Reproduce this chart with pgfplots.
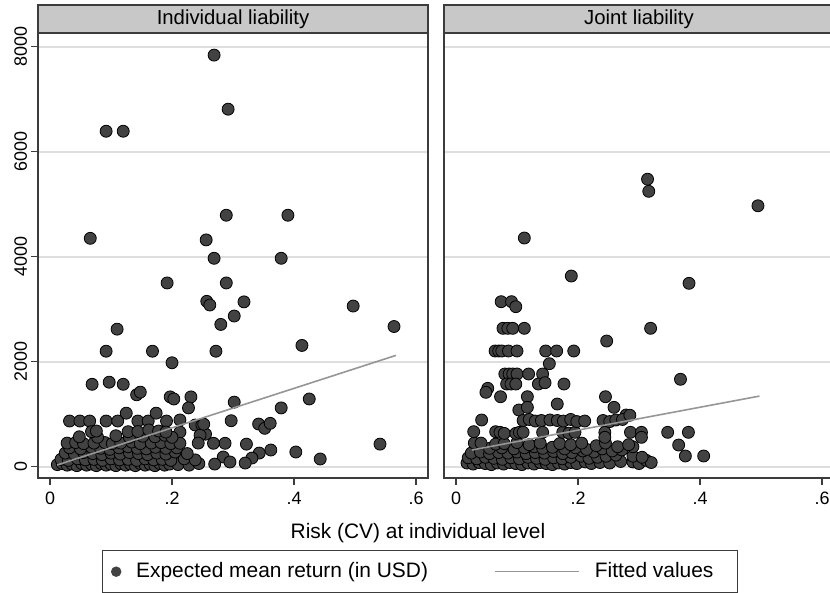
\documentclass[border=0pt]{standalone}
\usepackage{fontspec}
\setmainfont{Liberation Sans}
\usepackage{pgfplots}
\pgfplotsset{compat=1.18}

\definecolor{dotgray}{RGB}{66,66,66}
\definecolor{fitgray}{RGB}{150,150,150}
\definecolor{stripgray}{RGB}{200,200,200}
\definecolor{framegray}{RGB}{60,60,60}
\definecolor{gridgray}{RGB}{222,222,222}

\pgfplotsset{
  panel/.style={
    scale only axis, width=195bp, height=222.5bp,
    xmin=-0.0197, xmax=0.6197, ymin=-215, ymax=8261,
    xtick={0,0.2,0.4,0.6}, xticklabels={0,.2,.4,.6},
    ytick={0,2000,4000,6000,8000},
    ymajorgrids, grid style={gridgray, line width=1bp},
    axis line style={framegray, line width=0.8bp},
    tick style={framegray, line width=0.7bp},
    tick align=outside, major tick length=3.5bp,
    xtick pos=left,
    clip marker paths=true,
    tick label style={font=\fontsize{9}{10.5}\selectfont},
    /pgf/number format/assume math mode=true,
    /pgf/number format/1000 sep={},
    extra description/.code={
      \draw[framegray, line width=0.8bp, fill=stripgray] (0,1) rectangle ([yshift=14bp]1,1);
      \node[font=\fontsize{10.2}{12}\selectfont, inner sep=0pt] at ([yshift=7bp]0.5,1) {#1};
    },
  },
  dots/.style={only marks, mark=*, mark size=3bp, mark options={fill=dotgray, draw=none},
    legend image code/.code={\fill[dotgray] (0bp,0bp) circle (2.3bp); \path[draw=none, fill=none] (-2.3bp,0bp) rectangle (10bp,0.1bp);}},
  fit/.style={no marks, fitgray, line width=0.8bp,
    legend image code/.code={\draw[fitgray, line width=0.8bp] (0bp,0bp) -- (42bp,0bp); \path[draw=none] (42bp,0bp) rectangle (50bp,0.1bp);}},
}

\pgfplotstableread{
x y
.269 7840
.292 6810
.092 6390
.120 6390
.066 4350
.289 4790
.390 4790
.256 4320
.269 3970
.379 3970
.192 3500
.289 3500
.257 3150
.262 3080
.318 3140
.497 3060
.302 2870
.280 2710
.564 2670
.110 2620
.413 2310
.092 2200
.168 2200
.272 2200
.200 1980
.069 1570
.097 1610
.120 1570
.142 1370
.148 1420
.197 1330
.203 1290
.231 1330
.227 1120
.302 1230
.379 1120
.425 1290
.032 870
.049 870
.065 870
.092 870
.111 870
.125 1020
.144 870
.161 870
.174 1020
.191 870
.213 890
.238 794
.249 794
.297 876
.342 813
.352 731
.361 826
.213 660
.255 620
.246 600
.252 810
.287 446
.322 430
.362 318
.343 260
.331 165
.320 70
.403 280
.443 147
.541 430
.284 185
.295 90
.270 50
.012 40
.020 60
.028 30
.036 50
.044 20
.052 60
.060 30
.068 50
.076 20
.084 60
.092 30
.100 50
.108 20
.116 60
.124 30
.132 50
.140 20
.148 60
.156 30
.164 50
.172 20
.180 60
.188 30
.196 50
.210 40
.228 30
.244 60
.018 140
.030 120
.045 150
.058 130
.072 140
.086 120
.100 150
.114 130
.128 140
.142 120
.156 150
.170 130
.184 140
.198 120
.220 150
.238 130
.025 260
.040 240
.055 270
.070 250
.085 230
.100 260
.115 240
.130 270
.145 250
.160 230
.175 260
.190 240
.205 280
.225 250
.032 360
.050 340
.068 370
.083 350
.098 330
.113 360
.128 380
.143 350
.158 340
.173 370
.190 350
.208 360
.028 450
.042 460
.055 440
.072 450
.090 460
.102 440
.116 450
.134 470
.148 440
.166 450
.182 460
.198 440
.213 446
.243 450
.268 446
.048 570
.078 560
.108 590
.130 560
.152 580
.172 570
.188 600
.200 560
.068 667
.076 680
.128 667
.144 670
.162 700
.178 680
.190 660
}\indiv

\pgfplotstableread{
x y
.314 5476
.316 5245
.495 4970
.112 4356
.189 3632
.382 3493
.074 3143
.091 3143
.098 3048
.077 2636
.085 2636
.093 2636
.112 2636
.319 2636
.247 2394
.064 2204
.070 2204
.075 2204
.086 2204
.100 2204
.147 2204
.165 2204
.193 2204
.153 1962
.080 1766
.087 1766
.093 1766
.100 1766
.119 1766
.142 1766
.083 1575
.090 1575
.098 1575
.135 1575
.146 1600
.177 1575
.052 1493
.049 1417
.073 1333
.117 1333
.166 1194
.368 1665
.245 1333
.259 1131
.103 1080
.117 1131
.279 985
.042 890
.365 413
.376 204
.406 204
.018 70
.028 50
.038 80
.048 60
.058 40
.068 70
.078 50
.088 80
.098 60
.108 40
.118 70
.128 50
.138 80
.148 60
.158 40
.168 70
.178 50
.188 80
.198 60
.212 90
.222 60
.236 80
.252 70
.270 100
.290 90
.300 60
.312 120
.320 80
.020 170
.034 150
.048 180
.062 160
.076 140
.090 170
.104 150
.118 180
.132 160
.146 140
.160 170
.174 150
.188 180
.205 200
.218 160
.232 180
.246 200
.262 220
.290 200
.305 180
.025 260
.040 280
.055 250
.070 270
.085 260
.100 280
.115 250
.130 270
.145 260
.160 290
.175 250
.190 270
.208 300
.226 280
.240 340
.256 300
.272 320
.290 380
.055 350
.075 360
.095 340
.112 360
.128 380
.142 350
.158 370
.178 340
.196 360
.214 330
.230 400
.265 380
.283 420
.030 450
.041 450
.065 430
.079 440
.100 460
.120 420
.138 450
.170 440
.188 420
.206 450
.245 450
.029 667
.065 667
.072 655
.079 635
.098 635
.104 655
.110 655
.142 655
.175 655
.185 640
.195 655
.244 655
.244 560
.286 655
.304 655
.304 560
.347 655
.381 655
.110 880
.120 900
.130 870
.140 880
.154 890
.166 880
.176 870
.188 900
.198 860
.211 870
.241 880
.252 860
.262 890
.273 900
.285 980
}\joint

\begin{document}
\begin{tikzpicture}
\begin{axis}[panel={Individual liability},
  at={(19bp,57.5bp)}, anchor=south west,
  ytick pos=left,
  yticklabel style={rotate=90, anchor=south, yshift=-1.5bp},
  legend columns=2,
  legend style={at={(0.1641,-0.1618)}, anchor=north west,
    draw=framegray, line width=0.6bp, fill=white,
    inner xsep=4.2bp, inner ysep=5.5bp, column sep=0pt,
    nodes={inner xsep=0pt, inner ysep=0.5bp, font=\fontsize{10.5}{12.6}\selectfont},
    /tikz/every even column/.append style={column sep=33bp}},
  legend cell align=left]
\addplot[dots] table {\indiv};
\addlegendentry{Expected mean return (in USD)}
\addplot[fit] coordinates {(0.0115,32) (0.567,2120)};
\addlegendentry{Fitted values\kern 8bp}
\end{axis}
\begin{axis}[panel={Joint liability},
  at={(222bp,57.5bp)}, anchor=south west,
  ytick pos=right, yticklabels={}]
\addplot[dots] table {\joint};
\addplot[fit] coordinates {(0.026,318) (0.4975,1345)};
\end{axis}
\node[font=\fontsize{10.5}{12.6}\selectfont] at (209bp,30bp) {Risk (CV) at individual level};
\pgfresetboundingbox
\useasboundingbox (0,0) rectangle (415bp,296.5bp);
\end{tikzpicture}
\end{document}
